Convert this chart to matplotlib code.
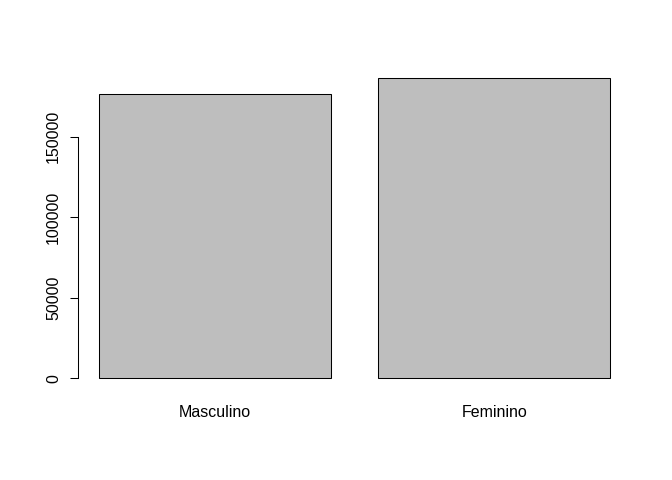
import matplotlib

matplotlib.use("Agg")
matplotlib.rcParams["font.family"] = "Liberation Sans"
import matplotlib.pyplot as plt

categories = ["Masculino", "Feminino"]
counts = [176700, 186300]
yticks = [0, 50000, 100000, 150000]

fig = plt.figure(figsize=(6.72, 4.8), dpi=100)
ax = fig.add_axes([0.1168, 0.1869, 0.822, 0.675])

# R barplot layout: width 1, space 0.2
lefts = [0.2 + i * 1.2 for i in range(len(categories))]
centers = [l + 0.5 for l in lefts]
ax.bar(centers, counts, width=1.0, color="#bebebe", edgecolor="black", linewidth=0.75)

xmin, xmax = 0.2, 0.2 + 1.2 * len(categories) - 0.2
pad_x = 0.04 * (xmax - xmin)
ax.set_xlim(xmin - pad_x, xmax + pad_x)
ymax = max(counts)
ax.set_ylim(-0.04 * ymax, ymax * 1.04)

for s in ["top", "right", "bottom"]:
    ax.spines[s].set_visible(False)
ax.spines["left"].set_bounds(yticks[0], yticks[-1])
ax.spines["left"].set_linewidth(0.75)

ax.set_yticks(yticks)
ax.set_yticklabels([str(t) for t in yticks], rotation=90, va="center", fontsize=11.5)
ax.tick_params(axis="y", length=5.5, width=0.75, pad=7)

ax.set_xticks(centers)
ax.set_xticklabels(categories, fontsize=11.5)
ax.tick_params(axis="x", length=0, pad=10.5)

fig.savefig("out.png", dpi=100)
